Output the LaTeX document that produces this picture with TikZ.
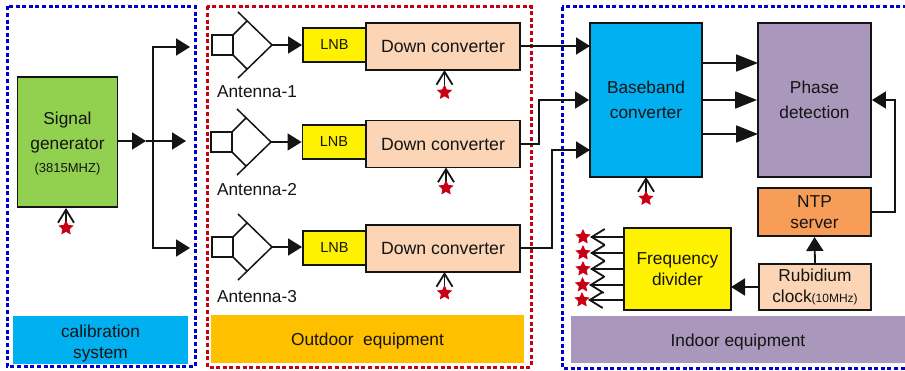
\documentclass[tikz,border=0pt]{standalone}
\usepackage{fontspec}
\setmainfont{Liberation Sans}
\usetikzlibrary{arrows.meta,shapes.geometric}
\definecolor{blueb}{RGB}{0,0,204}
\definecolor{redb}{RGB}{200,0,20}
\definecolor{cyanb}{RGB}{0,176,240}
\definecolor{greenb}{RGB}{146,208,80}
\definecolor{peach}{RGB}{251,213,181}
\definecolor{purp}{RGB}{170,152,188}
\definecolor{orng}{RGB}{247,157,87}
\definecolor{amber}{RGB}{255,192,0}
\definecolor{ink}{RGB}{20,20,20}
\tikzset{
  x=1pt,y=-1pt,
  region/.style={line width=3pt,dash pattern=on 4pt off 2.6pt},
  blockbox/.style={draw=ink,line width=1.9pt,align=center,inner sep=0pt,text=ink,font=\fontsize{17.3}{25}\selectfont},
  tight/.style={font=\fontsize{17.3}{20.5}\selectfont},
  band/.style={inner sep=0pt,align=center,text=ink,font=\fontsize{17.3}{21}\selectfont},
  conn/.style={line width=1.8pt,draw=ink},
  big/.style={conn,-{Triangle[length=14pt,width=17pt]}},
  bigger/.style={conn,-{Triangle[length=22pt,width=17pt]}},
  clockin/.style={conn,-{Straight Barb[length=13pt,width=16pt,line width=1.8pt]}},
  redstar/.style={star,star points=5,star point ratio=2.1,fill=redb,inner sep=0pt,minimum size=16pt},
  antline/.style={line width=1.5pt,draw=ink},
  lab/.style={inner sep=0pt,text=ink,font=\fontsize{17.3}{20}\selectfont},
}
\newcommand{\antenna}[3]{%
  \coordinate (#1) at (#2,#3);
  \draw[antline] (#2-60,#3-10) rectangle (#2-39,#3+10);
  \draw[antline] (#2-34,#3-33) -- (#2,#3) -- (#2-34,#3+33);
  \draw[antline] (#2-39,#3-10) -- (#2-25,#3-24);
  \draw[antline] (#2-39,#3+10) -- (#2-25,#3+24);
}
\begin{document}
\begin{tikzpicture}
\useasboundingbox (0,0) rectangle (905,371);
% regions
\draw[region,blueb] (7,6.5) rectangle (195,366);
\draw[region,redb] (207,6.5) rectangle (531,367);
\draw[region,blueb] (562,7) rectangle (908,368);
% bands
\node[band,fill=cyanb,minimum width=175pt,minimum height=47pt] (b1) at (100.5,340) {\rule{0pt}{19pt}calibration\\system};
\node[band,fill=amber,minimum width=313pt,minimum height=48pt] (b2) at (367.5,339) {\rule{0pt}{17pt}Outdoor\ \ equipment};
\node[band,fill=purp,minimum width=334pt,minimum height=47pt] (b3) at (738,339.5) {\rule{0pt}{17pt}Indoor equipment};
% blocks
\node[blockbox,fill=greenb,minimum width=100pt,minimum height=130pt] (sg) at (67.5,142)
  {\rule{0pt}{15pt}Signal\\generator\\[-2pt]{\fontsize{13}{14}\selectfont (3815MHZ)}};
\node[blockbox,fill=yellow,minimum width=63pt,minimum height=34pt] (lnb1) at (334.5,45) {\fontsize{14.5}{16}\selectfont LNB};
\node[blockbox,fill=yellow,minimum width=63pt,minimum height=34pt] (lnb2) at (334,142) {\fontsize{14.5}{16}\selectfont LNB};
\node[blockbox,fill=yellow,minimum width=63pt,minimum height=34pt] (lnb3) at (334.5,248) {\fontsize{14.5}{16}\selectfont LNB};
\node[blockbox,fill=peach,minimum width=154pt,minimum height=47pt] (dc1) at (443,46.5) {\fontsize{17.7}{25}\selectfont Down converter};
\node[blockbox,fill=peach,minimum width=154pt,minimum height=47pt] (dc2) at (443,144) {\fontsize{17.7}{25}\selectfont Down converter};
\node[blockbox,fill=peach,minimum width=154pt,minimum height=47pt] (dc3) at (443,248.5) {\fontsize{17.7}{25}\selectfont Down converter};
\node[blockbox,fill=cyanb,minimum width=112pt,minimum height=154pt] (bb) at (646,100) {Baseband\\converter};
\node[blockbox,fill=purp,minimum width=113pt,minimum height=154pt] (pd) at (814.5,100) {Phase\\detection};
\node[blockbox,tight,fill=orng,minimum width=113pt,minimum height=48pt] (ntp) at (814.5,212) {NTP\\server};
\node[blockbox,tight,fill=peach,minimum width=112pt,minimum height=46pt] (rb) at (815,287)
  {Rubidium\\clock{\fontsize{12}{14}\selectfont(10MHz)}};
\node[blockbox,tight,fill=yellow,minimum width=107pt,minimum height=82pt] (fd) at (677.5,269) {Frequency\\divider};
% antennas
\antenna{a1}{272}{45}
\antenna{a2}{271}{142}
\antenna{a3}{272}{247}
\node[lab] (al1) at (257,92) {Antenna-1};
\node[lab] (al2) at (257,190) {Antenna-2};
\node[lab] (al3) at (257,297) {Antenna-3};
\draw[big] (a1) -- (lnb1.west);
\draw[big] (a2) -- (lnb2.west);
\draw[big] (a3) -- (lnb3.west |- a3);
% signal distribution
\coordinate (j) at (153,141);
\coordinate (t1) at (190,47);
\coordinate (t2) at (186,141);
\coordinate (t3) at (190,248);
\coordinate (jt) at (153,47);
\coordinate (jb) at (153,248);
\coordinate (jm) at (146,141);
\coordinate (sgo) at (117.5,141);
\draw[big] (sgo) -- (jm);
\draw[conn] (jm) -- (j);
\draw[big] (j) -- (t2);
\draw[big] (j) -- (jt) -- (t1);
\draw[big] (j) -- (jb) -- (t3);
% converter to baseband
\coordinate (c0a) at (520,46);
\coordinate (bb1) at (590,46);
\coordinate (c1) at (539,144);
\coordinate (c1b) at (539,100);
\coordinate (c3a) at (520,248);
\coordinate (c2) at (552,248);
\coordinate (c2b) at (552,150);
\coordinate (bb3) at (590,150);
\draw[big] (c0a) -- (bb1);
\draw[big] (dc2.east) -- (c1) -- (c1b) -- (bb.west);
\draw[big] (c3a) -- (c2) -- (c2b) -- (bb3);
% baseband to phase
\coordinate (q1a) at (702,63);
\coordinate (q1b) at (758,63);
\coordinate (q3a) at (702,134);
\coordinate (q3b) at (758,134);
\draw[bigger] (q1a) -- (q1b);
\draw[bigger] (bb.east) -- (pd.west);
\draw[bigger] (q3a) -- (q3b);
% ntp
\coordinate (n1) at (895,212);
\coordinate (n2) at (895,100);
\draw[big] (ntp.east) -- (n1) -- (n2) -- (pd.east);
\draw[big] (rb.north) -- (ntp.south);
\coordinate (fde) at (731,287);
\draw[big] (rb.west) -- (fde);
% stars and clock inputs
\coordinate (s0t) at (66,208);
\coordinate (s1t) at (444.5,70);
\coordinate (s2t) at (446,167.5);
\coordinate (s3t) at (444.5,272);
\coordinate (s4t) at (646,177);
\coordinate (s0b) at (66,228);
\coordinate (s1b) at (444.5,92.5);
\coordinate (s2b) at (446,188);
\coordinate (s3b) at (444.5,293);
\coordinate (s4b) at (646,198.5);
\draw[clockin] (s0b) -- (s0t);
\draw[clockin] (s1b) -- (s1t);
\draw[clockin] (s2b) -- (s2t);
\draw[clockin] (s3b) -- (s3t);
\draw[clockin] (s4b) -- (s4t);
\node[redstar] (s0) at (s0b) {};
\node[redstar] (s1) at (s1b) {};
\node[redstar] (s2) at (s2b) {};
\node[redstar] (s3) at (s3b) {};
\node[redstar] (s4) at (s4b) {};
% divider outputs
\coordinate (d1a) at (624,237);
\coordinate (d2a) at (624,253);
\coordinate (d3a) at (624,269);
\coordinate (d4a) at (624,285);
\coordinate (d5a) at (624,300);
\coordinate (d1b) at (590,237);
\coordinate (d2b) at (590,253);
\coordinate (d3b) at (590,269);
\coordinate (d4b) at (589,285);
\coordinate (d5b) at (588,300);
\draw[clockin] (d1a) -- (d1b);
\draw[clockin] (d2a) -- (d2b);
\draw[clockin] (d3a) -- (d3b);
\draw[clockin] (d4a) -- (d4b);
\draw[clockin] (d5a) -- (d5b);
\node[redstar] (o1) at (583,237) {};
\node[redstar] (o2) at (583,253) {};
\node[redstar] (o3) at (583,269) {};
\node[redstar] (o4) at (582.5,285) {};
\node[redstar] (o5) at (582,300) {};
\end{tikzpicture}
\end{document}
